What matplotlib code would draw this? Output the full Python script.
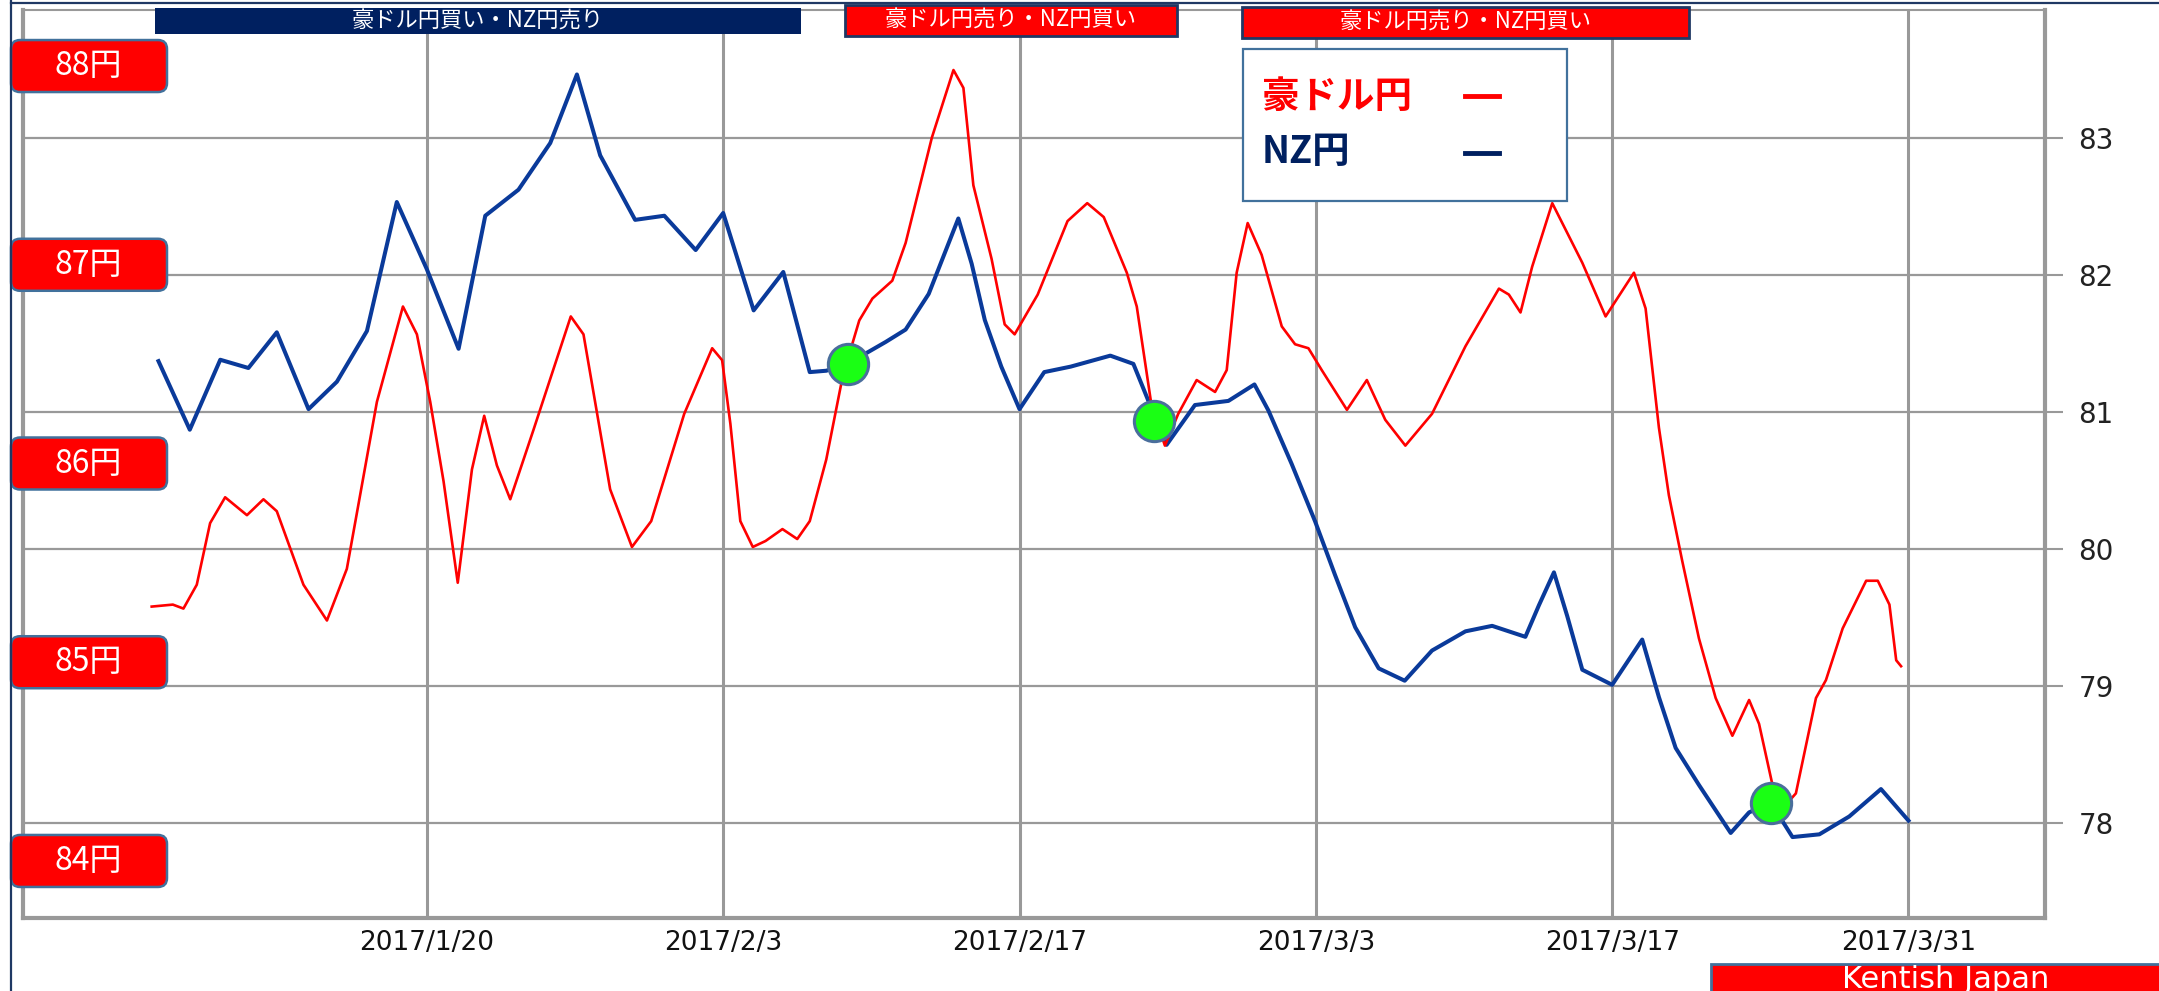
import numpy as np
import pandas as pd
import matplotlib
matplotlib.use('Agg')
import matplotlib.pyplot as plt
from matplotlib.patches import Rectangle, FancyBboxPatch
from matplotlib.lines import Line2D

BASE = pd.Timestamp('2017-01-20')

# 豪ドル円 (left scale) : days from 2017/1/20, value in yen
aud_days = [-13.0, -12.0, -11.5, -10.87, -10.24, -9.53, -8.5, -7.72, -7.09, -5.83,
            -4.72, -3.78, -2.36, -1.13, -0.47, 0.16, 0.79, 1.46, 2.13, 2.71,
            3.31, 3.94, 5.04, 6.8, 7.4, 8.66, 9.69, 10.6, 12.16, 13.48,
            13.95, 14.34, 14.81, 15.4, 16.0, 16.8, 17.5, 18.09, 18.87, 19.65,
            20.43, 21.05, 21.99, 22.62, 23.86, 24.88, 25.35, 25.82, 26.68, 27.3,
            27.77, 28.86, 30.27, 31.2, 31.98, 33.07, 33.54, 34.24, 34.87, 35.5,
            36.37, 37.24, 37.79, 38.26, 38.78, 39.44, 40.39, 41.02, 41.65, 42.28,
            43.47, 44.41, 45.28, 46.23, 47.49, 49.07, 50.65, 51.12, 51.67, 52.22,
            53.17, 54.59, 55.69, 57.03, 57.58, 58.21, 58.68, 59.31, 60.1, 60.89,
            61.68, 62.47, 62.94, 63.58, 64.1, 64.68, 65.63, 66.1, 66.89, 68.0,
            68.55, 69.1, 69.42, 69.65]
aud_vals = [85.28, 85.29, 85.27, 85.39, 85.70, 85.83, 85.74, 85.82, 85.76, 85.39,
            85.21, 85.47, 86.31, 86.79, 86.65, 86.31, 85.91, 85.40, 85.97, 86.24,
            85.99, 85.82, 86.17, 86.74, 86.65, 85.87, 85.58, 85.71, 86.25, 86.58,
            86.52, 86.20, 85.71, 85.58, 85.61, 85.67, 85.62, 85.71, 86.02, 86.44,
            86.72, 86.83, 86.92, 87.11, 87.64, 87.98, 87.89, 87.40, 87.03, 86.70,
            86.65, 86.85, 87.22, 87.31, 87.24, 86.96, 86.79, 86.29, 86.09, 86.25,
            86.42, 86.36, 86.47, 86.96, 87.21, 87.05, 86.69, 86.60, 86.58, 86.47,
            86.27, 86.42, 86.22, 86.09, 86.25, 86.59, 86.88, 86.85, 86.76, 86.99,
            87.31, 87.01, 86.74, 86.96, 86.78, 86.18, 85.84, 85.51, 85.12, 84.82,
            84.63, 84.81, 84.69, 84.38, 84.27, 84.34, 84.82, 84.91, 85.17, 85.41,
            85.41, 85.29, 85.01, 84.98]

# NZ円 (right scale)
nz_days = [-12.68, -11.2, -9.76, -8.43, -7.09, -5.59, -4.25, -2.83, -1.42, 0.0,
           1.5, 2.76, 4.33, 5.83, 7.09, 8.19, 9.84, 11.22, 12.7, 14.0,
           15.44, 16.84, 18.09, 18.87, 19.88, 21.68, 22.62, 23.71, 25.11, 25.74,
           26.36, 27.14, 28.0, 29.17, 30.42, 32.29, 33.38, 34.09, 34.95, 36.29,
           37.87, 39.1, 39.76, 40.86, 41.97, 42.91, 43.86, 44.97, 46.2, 47.49,
           49.07, 50.33, 51.9, 52.54, 53.25, 53.88, 54.59, 56.0, 57.42, 58.21,
           59.0, 60.1, 61.6, 62.47, 63.5, 64.52, 65.79, 67.2, 68.7, 70.0]
nz_vals = [81.37, 80.87, 81.38, 81.32, 81.58, 81.02, 81.22, 81.59, 82.53, 82.04,
           81.46, 82.43, 82.62, 82.96, 83.46, 82.87, 82.40, 82.43, 82.18, 82.45,
           81.74, 82.02, 81.29, 81.30, 81.35, 81.51, 81.60, 81.86, 82.41, 82.08,
           81.67, 81.33, 81.02, 81.29, 81.33, 81.41, 81.35, 81.08, 80.76, 81.05,
           81.08, 81.20, 81.01, 80.62, 80.20, 79.81, 79.43, 79.13, 79.04, 79.26,
           79.40, 79.44, 79.36, 79.59, 79.83, 79.51, 79.12, 79.01, 79.34, 78.92,
           78.55, 78.28, 77.93, 78.08, 78.15, 77.90, 77.92, 78.05, 78.25, 78.02]

# crossing signals (on NZ scale)
signal_days = [19.9, 34.35, 63.5]
signal_vals = [81.35, 80.93, 78.15]

tick_dates = ['2017-01-20', '2017-02-03', '2017-02-17', '2017-03-03', '2017-03-17', '2017-03-31']
tick_labels = ['2017/1/20', '2017/2/3', '2017/2/17', '2017/3/3', '2017/3/17', '2017/3/31']
nz_ticks = [78, 79, 80, 81, 82, 83]
aud_marks = [88, 87, 86, 85, 84]

NAVY = '#002060'
EDGE = '#41719C'
GRID = '#999999'
CJK = ['Noto Sans CJK JP', 'DejaVu Sans']

W, H = 2159, 991
fig = plt.figure(figsize=(W / 100, H / 100), dpi=100)
ax = fig.add_axes([23 / W, 1 - 918 / H, (2045 - 23) / W, (918 - 10) / H])


def to_dates(days):
    return BASE + pd.to_timedelta(np.asarray(days), unit='D')


def px(x, y):
    # pixel position (top-left origin) -> inches for dpi_scale_trans
    return x / 100, (H - y) / 100


# NZ axis (grid + right hand ticks)
ax.plot(to_dates(nz_days), nz_vals, color='#0A3A9A', lw=2.9, zorder=3)
ax.set_ylim(77.31, 83.93)
ax.set_xlim(BASE - pd.Timedelta(days=19.08), BASE + pd.Timedelta(days=76.45))
ax.set_xticks(pd.to_datetime(tick_dates))
ax.set_xticklabels(tick_labels, fontsize=19, color='#111111')
ax.tick_params(axis='x', length=0, pad=9)
ax.set_axisbelow(True)
ax.xaxis.grid(True, color=GRID, lw=2.2)
ax.yaxis.grid(True, color=GRID, lw=1.6)
for side in ['left', 'bottom', 'right']:
    ax.spines[side].set_color(GRID)
    ax.spines[side].set_linewidth(3)
ax.spines['top'].set_color(GRID)
ax.spines['top'].set_linewidth(1.5)

# AUD axis on top
axl = ax.twinx()
axl.set_ylim(83.713, 88.282)
axl.plot(to_dates(aud_days), aud_vals, color='#FF0000', lw=1.9, zorder=3)
axl.set_yticks([])
axl.tick_params(axis='y', left=False, right=False, labelleft=False, labelright=False)
for s in axl.spines.values():
    s.set_visible(False)

# twinx moves ax ticks to the left, so put them back on the right
ax.set_yticks(nz_ticks)
ax.yaxis.tick_right()
ax.tick_params(axis='y', left=False, right=True, labelleft=False, labelright=True,
               length=13, width=1.5, color=GRID, pad=11, labelsize=20,
               labelcolor='#222222')

# green signal dots, drawn above both lines
axl.plot(to_dates(signal_days), signal_vals, 'o', transform=ax.transData,
         ms=29, mfc='#1AFF14', mec='#4A6E9C', mew=2.2, zorder=5, clip_on=False)

ins = fig.dpi_scale_trans

# left yen labels
for v in aud_marks:
    yc = axl.transData.transform((0, v))[1] / fig.dpi
    box = FancyBboxPatch((0.11, yc - 0.26), 1.56, 0.52,
                         boxstyle='round,pad=0,rounding_size=0.09',
                         fc='#FF0000', ec=EDGE, lw=1.8, transform=ins)
    fig.add_artist(box)
    fig.text(0.88, yc, f'{v}円', transform=ins, ha='center', va='center',
             color='white', fontsize=23, family=CJK)

# top banners
banners = [(155, 8, 801, 34, NAVY, None, '豪ドル円買い・NZ円売り'),
           (845, 5, 1177, 36, '#FF0000', '#1F3864', '豪ドル円売り・NZ円買い'),
           (1242, 7, 1689, 38, '#FF0000', '#1F3864', '豪ドル円売り・NZ円買い')]
for x0, y0, x1, y1, fc, ec, label in banners:
    bx, by = px(x0, y1)
    fig.add_artist(Rectangle((bx, by), (x1 - x0) / 100, (y1 - y0) / 100, fc=fc,
                             ec=ec if ec else 'none', lw=2, transform=ins))
    tx, ty = px((x0 + x1) / 2, (y0 + y1) / 2)
    fig.text(tx, ty, label, transform=ins, ha='center', va='center', color='white',
             fontsize=16, family=CJK)

# legend box
lx, ly = px(1243, 201)
fig.add_artist(Rectangle((lx, ly), (1567 - 1243) / 100, (201 - 49) / 100,
                         fc='white', ec=EDGE, lw=1.6, transform=ins))
tx, ty = px(1262, 96)
fig.text(tx, ty, '豪ドル円', transform=ins, ha='left', va='center', color='#FF0000',
         fontsize=27, weight='bold', family=CJK)
tx, ty = px(1262, 152)
fig.text(tx, ty, 'NZ円', transform=ins, ha='left', va='center', color=NAVY,
         fontsize=27, weight='bold', family=CJK)
for yy, col in [(96, '#FF0000'), (153, NAVY)]:
    a, b = px(1465, yy)
    c, _ = px(1499, yy)
    fig.add_artist(Line2D([a, c], [b, b], color=col, lw=3.5, transform=ins))

# outer frame lines
fig.add_artist(Line2D([0.11, 0.11], [0, H / 100], color='#1F3864', lw=1.6, transform=ins))
fig.add_artist(Line2D([0.11, W / 100], [(H - 3) / 100] * 2, color='#1F3864', lw=1.6,
                      transform=ins))

# Kentish Japan tag
kx, ky = px(1711, 995)
fig.add_artist(Rectangle((kx, ky), 5, (995 - 964) / 100, fc='#FF0000', ec=EDGE, lw=2,
                         transform=ins))
tx, ty = px(1946, 965)
fig.text(tx, ty, 'Kentish Japan', transform=ins, ha='center', va='top', color='white',
         fontsize=22)

fig.savefig('out.png', dpi=100)
